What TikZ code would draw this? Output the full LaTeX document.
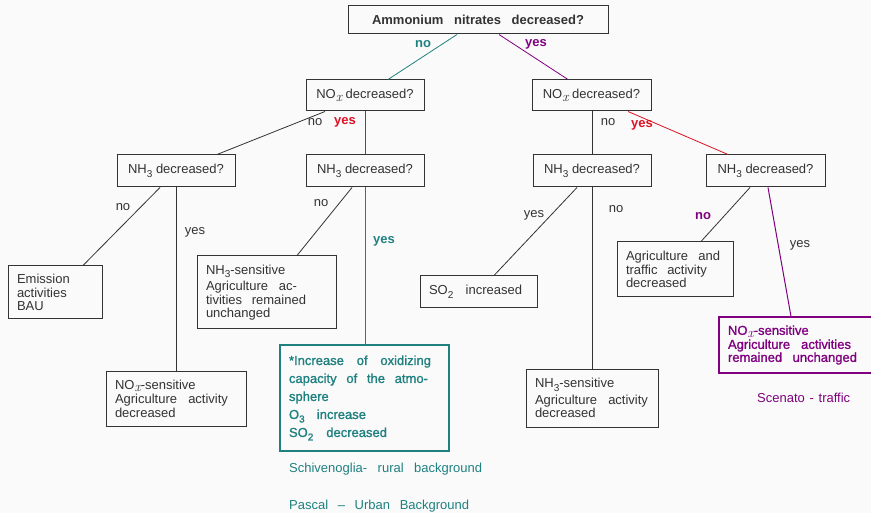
\documentclass[tikz,border=0pt]{standalone}
\usepackage{fontspec}
\setmainfont{Liberation Sans}
\newfontfamily\heavy[FakeBold=1.2]{Liberation Sans}
\newfontfamily\lmr{Latin Modern Roman}
\usetikzlibrary{calc}
\definecolor{tealc}{HTML}{1F8080}
\definecolor{purp}{HTML}{800080}
\definecolor{redc}{HTML}{DD1122}
\definecolor{ink}{HTML}{333333}
\definecolor{bgc}{HTML}{FAFAFA}
\newcommand{\jl}[2]{\makebox[#1pt][s]{\spaceskip=0pt\xspaceskip=0pt\relax#2}}
\newcommand{\sbn}[1]{\raisebox{-3.5pt}{\fontsize{10}{10}\selectfont #1}}
\newcommand{\sbx}{\raisebox{-2.5pt}{\lmr\itshape\fontsize{14}{14}\selectfont x}}
\begin{document}
\begin{tikzpicture}[x=1pt,y=-1pt,
  font=\fontsize{13}{13.5}\selectfont,
  q/.style={draw=ink, line width=1pt, inner sep=0pt, text=ink, minimum width=118pt, minimum height=32pt},
  res/.style={draw=ink, line width=1pt, inner xsep=9pt, inner ysep=0pt, align=left, text=ink},
  lbl/.style={text=ink, inner sep=0pt},
  conn/.style={draw=ink, line width=0.8pt}]
\fill[bgc] (0,0) rectangle (871,513);
\useasboundingbox (0,0) rectangle (871,513);
% question nodes
\node[q, minimum width=260pt, minimum height=28pt] (top) at (478,20) {\bfseries\jl{212}{Ammonium nitrates decreased?}};
\node[q, minimum height=31pt] (noxL) at (365,95.5) {NO\sbx\ decreased?};
\node[q, minimum width=119pt, minimum height=31pt] (noxR) at (591.5,95.5) {NO\sbx\ decreased?};
\node[q] (nh3A) at (176,171) {NH\sbn{3} decreased?};
\node[q] (nh3B) at (365,171) {NH\sbn{3} decreased?};
\node[q] (nh3C) at (592,171) {NH\sbn{3} decreased?};
\node[q, minimum width=119pt] (nh3D) at (765.5,171) {NH\sbn{3} decreased?};
% result nodes
\node[res, text width=76pt, minimum height=53pt] (emis) at (55,292.5) {Emission\\activities\\BAU};
\node[res, text width=122pt, minimum height=55pt] (noxsens) at (176,398.5) {NO\sbx-sensitive\\[1pt]\jl{113}{Agriculture activity}\\decreased};
\node[res, text width=121pt, minimum height=73pt] (nh3sens) at (266.5,292.5) {NH\sbn{3}-sensitive\\[3pt]\jl{91}{Agriculture ac-}\\\jl{100}{tivities remained}\\unchanged};
\node[res, draw=tealc, line width=1.2pt, text=tealc, text width=151pt, minimum height=106pt, font=\heavy\fontsize{13}{18}\selectfont] (tealbox) at (364.5,398) {\jl{142}{*Increase of oxidizing}\\\jl{139}{capacity of the atmo-}\\sphere\\\jl{77}{O\sbn{3} increase}\\\jl{98}{SO\sbn{2} decreased}};
\node[res, text width=99pt, minimum height=32pt] (so2) at (478.5,292) {\jl{93}{SO\sbn{2} increased}};
\node[res, text width=114pt, minimum height=58pt] (nh3sensR) at (592,398) {NH\sbn{3}-sensitive\\[3pt]\jl{113}{Agriculture activity}\\decreased};
\node[res, text width=98pt, minimum height=55pt] (agri) at (675,269.5) {\jl{94}{Agriculture and}\\\jl{81}{traffic activity}\\decreased};
\node[res, draw=purp, line width=1.2pt, text=purp, text width=138pt, minimum height=56pt, font=\heavy\fontsize{13}{13}\selectfont] (purpbox) at (797,345) {NO\sbx-sensitive\\[1pt]\jl{123}{Agriculture activities}\\\jl{129}{remained unchanged}};
% connectors
\draw[conn, draw=tealc] ([xshift=-21pt]top.south) -- ([xshift=23pt]noxL.north);
\draw[conn, draw=purp] ([xshift=21pt]top.south) -- ([xshift=-23.5pt]noxR.north);
\draw[conn] ([xshift=-40pt]noxL.south) -- ([xshift=41pt]nh3A.north);
\draw[conn, draw=redc] (noxL.south) -- (nh3B.north);
\draw[conn] ([xshift=0.5pt]noxR.south) -- (nh3C.north);
\draw[conn, draw=redc] ([xshift=36.5pt]noxR.south) -- ([xshift=-37.5pt]nh3D.north);
\draw[conn] ([xshift=-16pt]nh3A.south) -- ([xshift=28pt]emis.north);
\draw[conn] (nh3A.south) -- (noxsens.north);
\draw[conn] ([xshift=-13pt]nh3B.south) -- ([xshift=30.5pt]nh3sens.north);
\draw[conn, draw=tealc, line width=1pt] (nh3B.south) -- ([xshift=0.5pt]tealbox.north);
\draw[conn] ([xshift=-15pt]nh3C.south) -- ([xshift=15.5pt]so2.north);
\draw[conn] (nh3C.south) -- (nh3sensR.north);
\draw[conn] ([xshift=-15.5pt]nh3D.south) -- ([xshift=26pt]agri.north);
\draw[conn, draw=purp, line width=1pt] ([xshift=2.5pt]nh3D.south) -- ([xshift=-6pt]purpbox.north);
% edge labels
\node[lbl, text=tealc, font=\bfseries\fontsize{13}{13}\selectfont] (l1) at (423,44) {no};
\node[lbl, text=purp, font=\bfseries\fontsize{13}{13}\selectfont] (l2) at (536,44) {yes};
\node[lbl] (l3) at (315,122) {no};
\node[lbl, text=redc, font=\bfseries\fontsize{13}{13}\selectfont] (l4) at (345,122) {yes};
\node[lbl] (l5) at (608,122) {no};
\node[lbl, text=redc, font=\bfseries\fontsize{13}{13}\selectfont] (l6) at (642,125) {yes};
\node[lbl] (l7) at (123,207) {no};
\node[lbl] (l8) at (195,232) {yes};
\node[lbl] (l9) at (321,203) {no};
\node[lbl, text=tealc, font=\bfseries\fontsize{13}{13}\selectfont] (l10) at (384,241) {yes};
\node[lbl] (l11) at (534,215) {yes};
\node[lbl] (l12) at (616,209) {no};
\node[lbl, text=purp, font=\bfseries\fontsize{13}{13}\selectfont] (l13) at (703,216) {no};
\node[lbl] (l14) at (800,245) {yes};
% captions
\node[lbl, text=tealc, anchor=west] (cap1) at (289,469) {\jl{193}{Schivenoglia- rural background}};
\node[lbl, text=tealc, anchor=west] (cap2) at (289,506) {\jl{180}{Pascal -- Urban Background}};
\node[lbl, text=purp, anchor=west] (cap3) at (757,398) {\jl{93}{Scenato - traffic}};
\end{tikzpicture}
\end{document}
